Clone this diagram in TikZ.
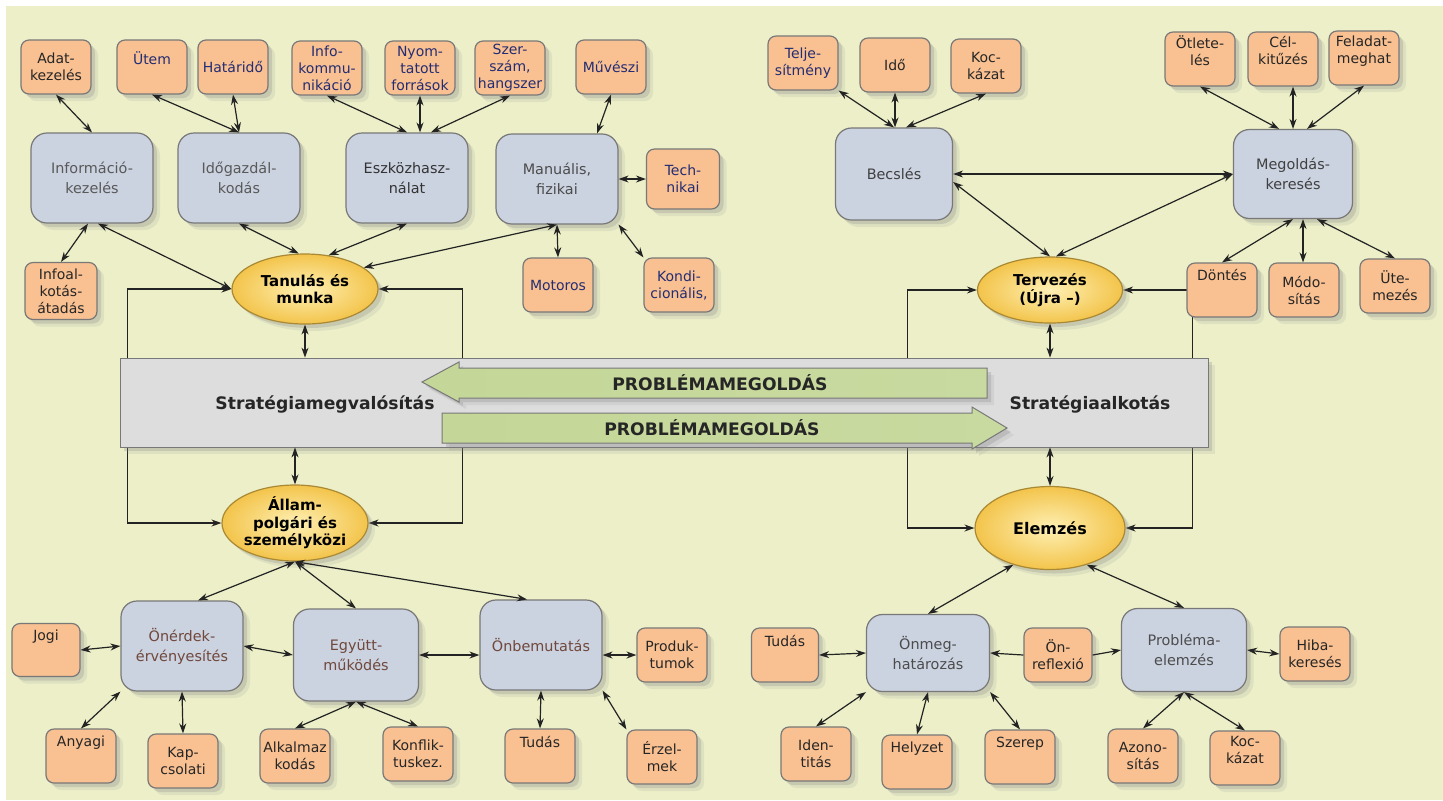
\documentclass[tikz,border=0pt]{standalone}
\usepackage{fontspec}
\setmainfont{DejaVu Sans}
\usetikzlibrary{arrows.meta,positioning,shapes.geometric,shadows,backgrounds}
\definecolor{bgc}{RGB}{236,239,200}
\definecolor{orng}{RGB}{249,192,145}
\definecolor{bluec}{RGB}{203,210,224}
\definecolor{frc}{RGB}{120,120,120}
\definecolor{barc}{RGB}{221,221,221}
\definecolor{ellin}{RGB}{254,240,180}
\definecolor{ellout}{RGB}{243,196,75}
\definecolor{agr}{RGB}{196,215,152}
\definecolor{agl}{RGB}{226,233,204}
\definecolor{navy}{RGB}{35,45,115}
\definecolor{brn}{RGB}{112,72,60}
\definecolor{lnc}{RGB}{35,35,35}
\begin{document}
\begin{tikzpicture}[x=0.5pt,y=-0.5pt,
    shd/.style={drop shadow={opacity=0.12,shadow xshift=3.5pt,shadow yshift=-3.5pt},
        drop shadow={opacity=0.25,shadow xshift=2pt,shadow yshift=-2pt}},
    base/.style={shd,draw=frc,line width=0.6pt,align=center,inner sep=1pt},
    leaf/.style={base,fill=orng,rounded corners=4pt,minimum width=35pt,minimum height=27pt,
        font=\fontsize{7}{8.5}\selectfont,text=black!85},
    skill/.style={base,fill=bluec,rounded corners=8pt,minimum width=61pt,minimum height=45pt,
        font=\fontsize{7.2}{10}\selectfont,text=black!65},
    area/.style={base,ellipse,shading=radial,inner color=ellin,outer color=ellout,draw=ellout!70!black,
        font=\bfseries\fontsize{7.5}{8.7}\selectfont,inner sep=0pt},
    conn/.style={{Stealth[length=5pt,width=3.5pt]}-{Stealth[length=5pt,width=3.5pt]},line width=0.6pt,draw=lnc},
    oneway/.style={-{Stealth[length=5pt,width=3.5pt]},line width=0.6pt,draw=lnc},
    ptext/.style={font=\bfseries\fontsize{8.6}{10}\selectfont,text=black!85}]

\useasboundingbox (0,0) rectangle (1443,800);
\begin{pgfonlayer}{background}
\fill[white] (0,0) rectangle (1443,800);
\fill[bgc] (6,6) rectangle (1443,800);
\end{pgfonlayer}

% Strategiamegvalositas - felso
\node[leaf] (adat) at (56,67) {Adat-\\kezelés};
\node[leaf,text=navy] (utem) at (152,67) {Ütem\\\mbox{}};
\node[leaf,text=navy] (hat) at (233,67) {Határidő};
\node[leaf,text=navy] (ikom) at (327,68) {Info-\\kommu-\\nikáció};
\node[leaf,text=navy] (nyom) at (420,68) {Nyom-\\tatott\\források};
\node[leaf,text=navy] (szsz) at (510,68) {Szer-\\szám,\\hangszer};
\node[leaf,text=navy] (muv) at (611,67) {Művészi};
\node[skill] (info) at (92,178) {Információ-\\kezelés};
\node[skill] (idog) at (239,178) {Időgazdál-\\kodás};
\node[skill,text=black!80] (eszk) at (407,178) {Eszközhasz-\\nálat};
\node[skill,text=black!70] (manu) at (557,179) {Manuális,\\fizikai};
\node[leaf,text=navy,minimum width=36.5pt,minimum height=30pt] (tech) at (683,179) {Tech-\\nikai};
\node[leaf,text=navy] (motor) at (558,285) {Motoros};
\node[leaf,text=navy] (kond) at (679,285) {Kondi-\\cionális,};
\node[leaf,minimum width=36pt,minimum height=28.5pt] (infal) at (61,291) {Infoal-\\kotás-\\átadás};
\node[area,minimum width=73pt,minimum height=35pt] (tanul) at (305,289) {Tanulás és\\munka};

% Strategiamegvalositas - also
\node[area,minimum width=73pt,minimum height=38pt] (allam) at (295,523) {Állam-\\polgári és\\személyközi};
\node[skill,text=brn] (oner) at (182,646) {Önérdek-\\érvényesítés};
\node[skill,text=brn,minimum width=62.5pt,minimum height=46pt] (egyu) at (356,655) {Együtt-\\működés};
\node[skill,text=brn] (onbe) at (541,645) {Önbemutatás};
\node[leaf,minimum width=34pt,minimum height=26.5pt] (jogi) at (46,650) {Jogi\\[6pt]\mbox{}};
\node[leaf] (anya) at (81,756) {Anyagi\\[6pt]\mbox{}};
\node[leaf] (kapc) at (183,761) {Kap-\\csolati};
\node[leaf] (alka) at (295,756) {Alkalmaz\\kodás};
\node[leaf] (konf) at (418,754) {Konflik-\\tuskez.};
\node[leaf] (prod) at (672,655) {Produk-\\tumok};
\node[leaf] (tuda) at (540,756) {Tudás\\[6pt]\mbox{}};
\node[leaf] (erze) at (662,757) {Érzel-\\mek};

% Strategiaalkotas - felso
\node[leaf,text=navy] (telj) at (803,63) {Telje-\\sítmény};
\node[leaf] (ido) at (895,65) {Idő};
\node[leaf] (kock) at (986,66) {Koc-\\kázat};
\node[skill,text=black!75,minimum width=58.5pt,minimum height=46pt] (becs) at (894,174) {Becslés};
\node[skill,text=black!75,minimum width=59.5pt,minimum height=44.5pt] (mego) at (1293,174) {Megoldás-\\keresés};
\node[leaf] (otl) at (1200,59) {Ötlete-\\lés\\\mbox{}};
\node[leaf] (cel) at (1283,59) {Cél-\\kitűzés\\\mbox{}};
\node[leaf] (fela) at (1364,58) {Feladat-\\meghat\\\mbox{}};
\node[leaf] (dont) at (1222,290) {Döntés\\[7pt]\mbox{}};
\node[leaf] (modo) at (1304,290) {Módo-\\sítás};
\node[leaf] (ute) at (1395,286) {Üte-\\mezés};
\node[area,minimum width=72.5pt,minimum height=33pt] (terv) at (1050,290) {Tervezés\\(Újra –)};

% Strategiaalkotas - also
\node[area,minimum width=75pt,minimum height=41.5pt,font=\bfseries\fontsize{8}{10}\selectfont] (elem) at (1050,528) {Elemzés};
\node[leaf,minimum width=33.5pt] (tudb) at (785,655) {Tudás\\[6pt]\mbox{}};
\node[skill,text=black!70,minimum width=61.5pt,minimum height=38.5pt] (onme) at (928,653) {Önmeg-\\határozás};
\node[leaf,minimum width=34pt] (refl) at (1058,655) {Ön-\\reflexió};
\node[skill,text=black!70,minimum width=62.5pt,minimum height=41.5pt] (prob) at (1184,650) {Probléma-\\elemzés};
\node[leaf] (hiba) at (1315,654) {Hiba-\\keresés};
\node[leaf] (iden) at (816,754) {Iden-\\titás};
\node[leaf] (hely) at (917,762) {Helyzet\\[6pt]\mbox{}};
\node[leaf] (szer) at (1020,757) {Szerep\\[6pt]\mbox{}};
\node[leaf] (azon) at (1143,756) {Azono-\\sítás};
\node[leaf] (kocb) at (1245,758) {Koc-\\kázat\\\mbox{}};

% kozepso sav
\node[shd,draw=frc,fill=barc,minimum width=544pt,minimum height=44.5pt,inner sep=0pt] (bar) at (664,402.5) {};
\path[shd,draw=frc,line width=0.5pt,left color=agr,middle color=agl,right color=agr!85!agl]
    (422,382) -- (459,362) -- (459,368) -- (987,368) -- (987,398) -- (459,398) -- (459,402) -- cycle;
\path[shd,draw=frc,line width=0.5pt,left color=agr,middle color=agl,right color=agr!85!agl]
    (442,413) -- (972,413) -- (972,407) -- (1007,428) -- (972,449) -- (972,443) -- (442,443) -- cycle;
\node[ptext] (pm1) at (720,383) {PROBLÉMAMEGOLDÁS};
\node[ptext] (pm2) at (712,428) {PROBLÉMAMEGOLDÁS};
\node[ptext] (smv) at (325,404) {Stratégiamegvalósítás};
\node[ptext] (sak) at (1090,404) {Stratégiaalkotás};

\begin{pgfonlayer}{background}
\draw[oneway] ([xshift=4pt]bar.north west) |- (tanul.west);
\draw[oneway] ([xshift=171.5pt]bar.north west) |- (tanul.east);
\draw[oneway] ([xshift=4pt]bar.south west) |- (allam.west);
\draw[oneway] ([xshift=171.5pt]bar.south west) |- (allam.east);
\draw[oneway] ([xshift=394pt]bar.north west) |- (terv.west);
\draw[oneway] ([xshift=-8pt]bar.north east) |- (terv.east);
\draw[oneway] ([xshift=394pt]bar.south west) |- (elem.west);
\draw[oneway] ([xshift=-8pt]bar.south east) |- (elem.east);
\end{pgfonlayer}

\foreach \a/\b in {adat.south/info.north, utem.south/idog.north, hat.south/idog.north,
    ikom.south/eszk.north, manu.east/tech.west, manu.south/motor.north,
    manu.south east/kond.north west, idog.south/tanul.100, eszk.south/tanul.55,
    manu.south/tanul.20, telj.south east/becs.north, becs.east/mego.west,
    mego.south/dont.north, allam.south/egyu.north, oner.west/jogi.east,
    oner.east/egyu.west, oner.south west/anya.north, oner.south/kapc.north,
    egyu.south/alka.north, egyu.south/konf.north, onbe.south/tuda.north,
    onbe.south east/erze.north west, elem.225/onme.north, elem.-45/prob.north,
    tudb.east/onme.west, prob.east/hiba.west, onme.south west/iden.north,
    onme.south/hely.north, onme.south east/szer.north, prob.south/azon.north,
    prob.south/kocb.north}
    \draw[conn] (\a) -- (\b);

\draw[conn] ([xshift=-2pt]info.south) -- (infal.north);
\draw[conn] ([xshift=3pt]info.south) -- (tanul.west);
\draw[conn] (nyom.south) -- (nyom.south |- eszk.north);
\draw[conn] (szsz.south) -- ([xshift=12pt]eszk.north);
\draw[conn] (muv.south) -- ([xshift=20pt]manu.north);
\draw[conn] (ido.south) -- (ido.south |- becs.north);
\draw[conn] (kock.south) -- ([xshift=6pt]becs.north);
\draw[conn] ([yshift=-4pt]becs.east) -- (terv.north);
\draw[conn] (mego.west) -- ([xshift=3pt]terv.north);
\draw[conn] (otl.south) -- ([xshift=-7pt]mego.north);
\draw[conn] (mego.north) -- (mego.north |- cel.south);
\draw[conn] (fela.south) -- ([xshift=7pt]mego.north);
\draw[conn] ([xshift=5pt]mego.south) -- ([xshift=5pt]mego.south |- modo.north);
\draw[conn] ([xshift=12pt]mego.south) -- (ute.north);
\draw[conn] (allam.south) -- ([xshift=8pt]oner.north);
\draw[conn] (allam.south) -- ([xshift=-7pt]onbe.north);
\draw[conn] (egyu.east) -- (egyu.east -| onbe.west);
\draw[conn] (prod.west) -- (prod.west -| onbe.east);
\draw[oneway] (refl.west) -- (onme.east);
\draw[oneway] (refl.east) -- (prob.west);
\draw[conn] (tanul.south) -- (tanul.south |- bar.north);
\draw[conn] (allam.north) -- (allam.north |- bar.south);
\draw[conn] (terv.south) -- (terv.south |- bar.north);
\draw[conn] (elem.north) -- (elem.north |- bar.south);

\end{tikzpicture}
\end{document}
